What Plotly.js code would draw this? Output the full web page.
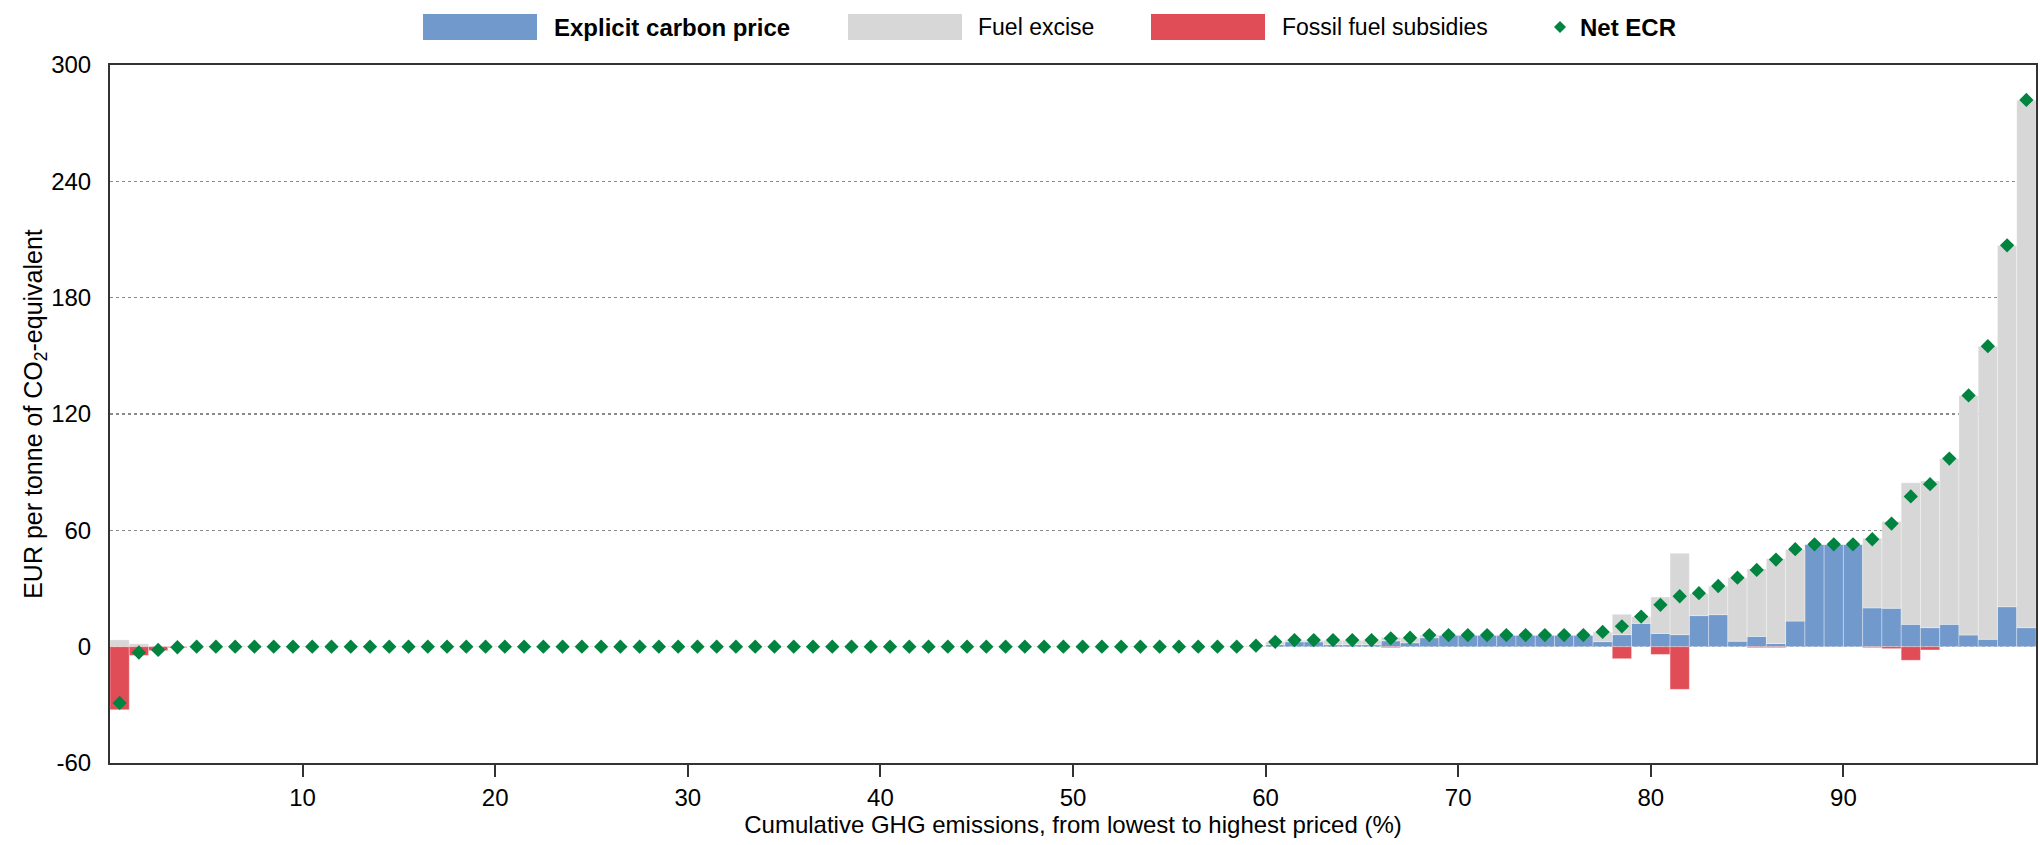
<!DOCTYPE html>
<html>
<head>
<meta charset="utf-8">
<script src="https://cdn.plot.ly/plotly-3.0.1.min.js"></script>
<style>html,body{margin:0;padding:0;background:#fff;}#chart{width:2040px;height:845px;}</style>
</head>
<body>
<div id="chart"></div>
<script>
// Percentile bins of cumulative GHG emissions (1..100)
const percentiles = [1,2,3,4,5,6,7,8,9,10,11,12,13,14,15,16,17,18,19,20,21,22,23,24,25,26,27,28,29,30,31,32,33,34,35,36,37,38,39,40,41,42,43,44,45,46,47,48,49,50,51,52,53,54,55,56,57,58,59,60,61,62,63,64,65,66,67,68,69,70,71,72,73,74,75,76,77,78,79,80,81,82,83,84,85,86,87,88,89,90,91,92,93,94,95,96,97,98,99,100];

// Explicit carbon price (EUR / tCO2e)
const explicitCarbonPrice = [
  0,0,0,0,0,0,0,0,0,0,
  0,0,0,0,0,0,0,0,0,0,
  0,0,0,0,0,0,0,0,0,0,
  0,0,0,0,0,0,0,0,0,0,
  0,0,0,0,0,0,0,0,0,0,
  0,0,0,0,0,0,0,0,0,0,
  1,2.5,2.5,1,1,1,3,2,4.6,6,
  6,6,6,6,6,6,6,2.6,6.2,12,
  6.8,6.2,16,16.5,2.8,5.3,1.6,13.2,52.8,52.8,
  52.8,20,19.8,11.5,9.8,11.5,6,3.8,20.6,9.8
];

// Fuel excise (EUR / tCO2e)
const fuelExcise = [
  3.5,1.5,0.3,0.2,0,0,0,0,0,0,
  0,0,0,0,0,0,0,0,0,0,
  0,0,0,0,0,0,0,0,0,0,
  0,0,0,0,0,0,0,0,0,0,
  0,0,0,0,0,0,0,0,0,0,
  0,0,0,0,0,0,0,0,0,0.5,
  1.5,0.9,0.9,2.4,2.4,2.4,1.8,2.6,1.4,0,
  0,0,0,0,0,0,0,5,10.5,3.5,
  18.8,42,11.5,14.8,32.8,34.8,43.8,37.1,0,0,
  0,35.9,44.7,73,75.7,85.5,123.6,151.2,186.4,272.2
];

// Fossil fuel subsidies (EUR / tCO2e, negative)
const fossilFuelSubsidies = [
  -32.5,-4.5,-2,-0.5,0,0,0,0,0,0,
  0,0,0,0,0,0,0,0,0,0,
  0,0,0,0,0,0,0,0,0,0,
  0,0,0,0,0,0,0,0,0,0,
  0,0,0,0,0,0,0,0,0,0,
  0,0,0,0,0,0,0,0,0,0,
  0,0,0,0,0,0,-0.5,0,0,0,
  0,0,0,0,0,0,0,0,-6.2,0,
  -4,-22,0,0,0,-0.5,-0.5,0,0,0,
  0,-0.5,-1,-7,-1.7,0,0,0,0,0
];

// Net effective carbon rate (EUR / tCO2e)
const netECR = [
  -29,-3,-1.7,-0.3,0,0,0,0,0,0,
  0,0,0,0,0,0,0,0,0,0,
  0,0,0,0,0,0,0,0,0,0,
  0,0,0,0,0,0,0,0,0,0,
  0,0,0,0,0,0,0,0,0,0,
  0,0,0,0,0,0,0,0,0,0.5,
  2.5,3.4,3.4,3.4,3.4,3.4,4.3,4.6,6,6,
  6,6,6,6,6,6,6,7.6,10.5,15.5,
  21.6,26,27.6,31.3,35.6,39.6,44.9,50.3,52.8,52.8,
  52.8,55.4,63.5,77.5,83.8,97,129.6,155,207,282
];

const xTickVals = [10,20,30,40,50,60,70,80,90];
const yTickVals = [-60,0,60,120,180,240,300];
const seriesNames = ['Explicit carbon price','Fuel excise','Fossil fuel subsidies','Net ECR'];

const FONT = '"Liberation Sans Narrow", "Arial Narrow", "Liberation Sans", Arial, sans-serif';
const BLUE = '#7199CC', GREY = '#D7D7D7', RED = '#E14D56', GREEN = '#00843F';

// bar centre = upper bound of bin minus half a bin
const xs = percentiles.map(p => p - 0.5);
const sep = {color: 'rgba(255,255,255,0.55)', width: 0.6};

const traces = [
  {type: 'bar', name: seriesNames[0], x: xs, y: explicitCarbonPrice, width: 1,
   marker: {color: BLUE, line: sep}, showlegend: false, hoverinfo: 'x+y+name'},
  {type: 'bar', name: seriesNames[1], x: xs, y: fuelExcise, width: 1,
   marker: {color: GREY, line: sep}, showlegend: false, hoverinfo: 'x+y+name'},
  {type: 'bar', name: seriesNames[2], x: xs, y: fossilFuelSubsidies, width: 1,
   marker: {color: RED, line: sep}, showlegend: false, hoverinfo: 'x+y+name'},
  {type: 'scatter', mode: 'markers', name: seriesNames[3], x: xs, y: netECR,
   marker: {symbol: 'diamond', size: 11, color: GREEN}, showlegend: false, hoverinfo: 'x+y+name'}
];

// ---- custom legend (pixel layout converted to paper coords) ----
const W = 2040, H = 845, ML = 110, MR = 4, MT = 65, MB = 82;
const PW = W - ML - MR, PH = H - MT - MB;
const px = v => (v - ML) / PW;
const py = v => (H - MB - v) / PH;

const legendRects = [
  {x0: 423, x1: 537, color: BLUE},
  {x0: 848, x1: 962, color: GREY},
  {x0: 1151, x1: 1265, color: RED}
];
const shapes = legendRects.map(r => ({
  type: 'rect', xref: 'paper', yref: 'paper',
  x0: px(r.x0), x1: px(r.x1), y0: py(40), y1: py(14),
  fillcolor: r.color, line: {width: 0}
}));
// diamond marker for Net ECR
const dcx = 1560, dcy = 27, dr = 6;
shapes.push({
  type: 'path', xref: 'paper', yref: 'paper',
  path: `M ${px(dcx)},${py(dcy - dr)} L ${px(dcx + dr)},${py(dcy)} L ${px(dcx)},${py(dcy + dr)} L ${px(dcx - dr)},${py(dcy)} Z`,
  fillcolor: GREEN, line: {width: 0}
});

const legendTexts = [
  {x: 552, text: '<b>' + seriesNames[0] + '</b>', size: 24},
  {x: 976, text: seriesNames[1], size: 23},
  {x: 1280, text: seriesNames[2], size: 23},
  {x: 1578, text: '<b>' + seriesNames[3] + '</b>', size: 24}
];
const annotations = legendTexts.map(t => ({
  xref: 'paper', yref: 'paper', x: px(t.x), y: py(27),
  xanchor: 'left', yanchor: 'middle', showarrow: false,
  text: t.text, font: {family: FONT, size: t.size, color: '#000'}
}));

const layout = {
  width: W, height: H,
  margin: {l: ML, r: MR, t: MT, b: MB, pad: 0},
  paper_bgcolor: '#fff', plot_bgcolor: '#fff',
  font: {family: FONT, size: 24, color: '#000'},
  barmode: 'relative', bargap: 0,
  showlegend: false,
  xaxis: {
    range: [0, 100], tickvals: xTickVals, ticktext: xTickVals.map(String),
    ticks: 'outside', ticklen: 12, tickwidth: 2, tickcolor: '#333',
    showgrid: false, zeroline: false,
    showline: true, mirror: true, linecolor: '#333', linewidth: 2,
    tickfont: {family: FONT, size: 24, color: '#000'},
    automargin: false,
    title: {text: 'Cumulative GHG emissions, from lowest to highest priced (%)',
            font: {family: FONT, size: 24, color: '#000'}, standoff: 4}
  },
  yaxis: {
    range: [-60, 300], tickvals: yTickVals, ticktext: yTickVals.map(String),
    ticks: '', showgrid: true, gridcolor: '#8a8a8a', griddash: 'dot', gridwidth: 1.5,
    zeroline: false, showline: true, mirror: true, linecolor: '#333', linewidth: 2,
    ticklabelstandoff: 12,
    tickfont: {family: FONT, size: 24, color: '#000'},
    automargin: false,
    title: {text: 'EUR per tonne of CO<sub>2</sub>-equivalent',
            font: {family: FONT, size: 25, color: '#000'}, standoff: 0}
  },
  shapes: shapes,
  annotations: annotations
};

Plotly.newPlot('chart', traces, layout, {displayModeBar: false, staticPlot: true});
</script>
</body>
</html>
